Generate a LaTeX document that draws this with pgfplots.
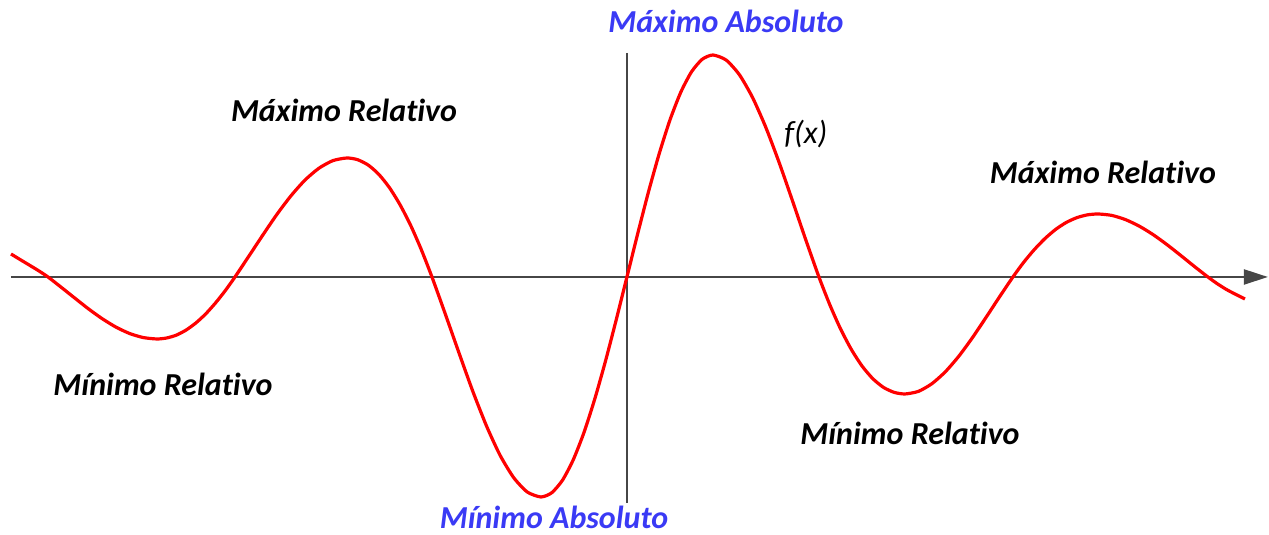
\documentclass[border=0pt]{standalone}
\usepackage{pgfplots}
\pgfplotsset{compat=1.18}
\usepackage{fontspec}
\setmainfont{Carlito}[Ligatures=NoCommon]
\usetikzlibrary{arrows.meta}
\definecolor{lblblue}{RGB}{58,58,245}
\definecolor{axgray}{RGB}{70,70,70}
\begin{document}
\begin{tikzpicture}
\begin{axis}[
  width=1269pt, height=535pt, scale only axis,
  xmin=0, xmax=1269, ymin=0, ymax=535, y dir=reverse,
  hide axis, clip=false,
]
\path (axis cs:0,0) -- (axis cs:1269,535);
% axes
\addplot[axgray, line width=2.2pt, -{Triangle[length=24pt,width=15pt]}] coordinates {(11,277) (1268,277)};
\addplot[axgray, line width=2.2pt] coordinates {(627,53) (627,503)};
% curve
\addplot[red, line width=3.2pt, smooth, tension=0.4] coordinates {
(11,254) (20,259.5) (30,265.5) (39,271) (48,277)
(61.6,287.6) (75.3,298.5) (88.9,309.2) (102.5,318.9) (116.1,327.2) (129.8,333.6) (143.4,337.6) (157,339)
(166.75,338.0) (176.5,335.1) (186.25,330.0) (196,322.9) (205.75,313.9) (215.5,303.0) (225.25,290.7) (235,277)
(249,256.0) (263,234.8) (277,214.3) (291,195.8) (305,180.1) (319,168.2) (333,160.6) (347,158)
(357.6,159.7) (368.3,165.1) (378.9,174.4) (389.5,187.7) (400.1,204.8) (410.8,225.6) (421.4,249.8) (432,277)
(445.6,314.8) (459.3,353.7) (472.9,391.5) (486.5,425.9) (500.1,455.3) (513.8,477.8) (527.4,492.1) (541,497)
(551.75,492.8) (562.5,480.3) (573.25,459.9) (584,432.6) (594.75,399.2) (605.5,361.2) (616.25,319.9) (627,277)
(637.75,233.7) (648.5,192.0) (659.25,153.7) (670,120.0) (680.75,92.4) (691.5,71.9) (702.25,59.3) (713,55)
(726.25,60.1) (739.5,74.8) (752.75,97.8) (766,127.7) (779.25,162.7) (792.5,200.7) (805.75,239.6) (819,277)
(829.75,304.5) (840.5,328.7) (851.25,349.2) (862,365.9) (872.75,378.6) (883.5,387.4) (894.25,392.4) (905,394)
(918.5,391.4) (932,383.7) (945.5,371.7) (959,356.1) (972.5,337.7) (986,317.6) (999.5,297.0) (1013,277)
(1023.6,262.5) (1034.3,249.7) (1044.9,238.7) (1055.5,229.6) (1066.1,222.6) (1076.8,217.7) (1087.4,214.9) (1098,214)
(1111.75,215.4) (1125.5,219.6) (1139.25,226.1) (1153,234.5) (1166.75,244.4) (1180.5,255.2) (1194.25,266.3) (1208,277)
(1217,283.5) (1226.5,289.5) (1236,294.5) (1245,299)
};
% labels
\tikzset{lbl/.style={anchor=base, font=\fontsize{32}{36}\selectfont\bfseries\itshape, inner sep=0pt}}
\node[lbl, lblblue] at (axis cs:726,33) {Máximo Absoluto};
\node[lbl, lblblue] at (axis cs:554,529) {Mínimo Absoluto};
\node[lbl] at (axis cs:344,122) {Máximo Relat\kern0pt ivo};
\node[lbl] at (axis cs:163,396) {Mínimo Relat\kern0pt ivo};
\node[lbl] at (axis cs:910,445) {Mínimo Relat\kern0pt ivo};
\node[lbl] at (axis cs:1103,184) {Máximo Relat\kern0pt ivo};
\node[anchor=base, inner sep=0pt, font=\fontsize{32}{36}\selectfont\itshape] at (axis cs:806,144) {f(x)};
\end{axis}
\end{tikzpicture}
\end{document}
